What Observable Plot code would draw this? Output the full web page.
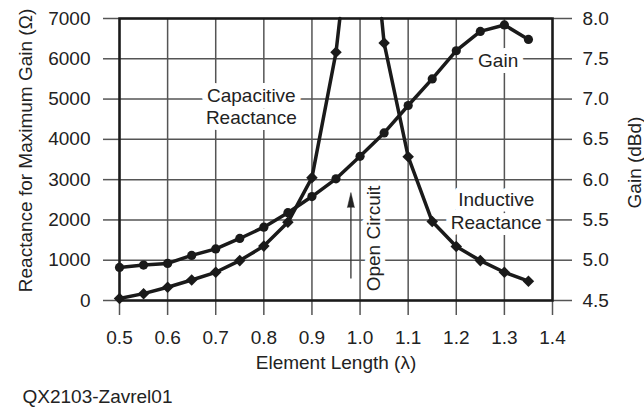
<!DOCTYPE html>
<html><head><meta charset="utf-8">
<script src="https://cdn.jsdelivr.net/npm/d3@7"></script>
<script src="https://cdn.jsdelivr.net/npm/@observablehq/plot@0.6"></script>
<style>body{margin:0;background:#fff} svg{display:block}</style>
</head><body><div id="chart"></div>
<script>
// Capacitive reactance (Ω) vs element length (λ)
const capLength = [0.5, 0.55, 0.6, 0.65, 0.7, 0.75, 0.8, 0.85, 0.9, 0.95];
const capReact  = [50, 170, 330, 510, 700, 990, 1350, 1940, 3050, 6160];
// where the capacitive curve leaves the top of the chart
const capExitLength = 0.958, capExitReact = 7000;

// Inductive reactance (Ω)
const indLength = [1.05, 1.1, 1.15, 1.2, 1.25, 1.3, 1.35];
const indReact  = [6390, 3570, 1960, 1340, 990, 700, 480];
const indEntryLength = 1.045, indEntryReact = 7000;

// Gain (dBd)
const gainLength = [0.5, 0.55, 0.6, 0.65, 0.7, 0.75, 0.8, 0.85, 0.9, 0.95, 1.0, 1.05, 1.1, 1.15, 1.2, 1.25, 1.3, 1.35];
const gainDbd    = [4.91, 4.94, 4.96, 5.06, 5.14, 5.27, 5.41, 5.59, 5.79, 6.01, 6.29, 6.58, 6.92, 7.25, 7.60, 7.84, 7.92, 7.74];

// Axis ticks
const xTicks = [0.5, 0.6, 0.7, 0.8, 0.9, 1.0, 1.1, 1.2, 1.3, 1.4];
const reactTicks = [0, 1000, 2000, 3000, 4000, 5000, 6000, 7000];
const gainMin = 4.5, gainMax = 8.0, reactMax = 7000;

// Open-circuit arrow
const openLength = 0.981, openFrom = 546, openTo = 2680;

const toR = g => (g - gainMin) / (gainMax - gainMin) * reactMax;
const toG = r => gainMin + r / reactMax * (gainMax - gainMin);

const cap = capLength.map((x, i) => ({x, y: capReact[i]}));
const capLine = [...cap, {x: capExitLength, y: capExitReact}];
const ind = indLength.map((x, i) => ({x, y: indReact[i]}));
const indLine = [{x: indEntryLength, y: indEntryReact}, ...ind];
const gain = gainLength.map((x, i) => ({x, g: gainDbd[i]}));

const ink = "#1a1a1a", grid = "#555", txt = "#222";
const halo = {fill: txt, stroke: "white", strokeWidth: 12, paintOrder: "stroke", fontSize: 19};

const chart = Plot.plot({
  width: 644, height: 411,
  marginLeft: 119, marginRight: 92, marginTop: 18, marginBottom: 111,
  style: {fontFamily: "Liberation Sans, Arial, sans-serif", fontSize: "19px", background: "white", color: txt},
  x: {domain: [0.5, 1.4]},
  y: {domain: [0, 7000]},
  marks: [
    Plot.gridX({ticks: xTicks, stroke: grid, strokeOpacity: 1, strokeWidth: 1.5}),
    Plot.gridY({ticks: reactTicks, stroke: grid, strokeOpacity: 1, strokeWidth: 1.5}),
    Plot.axisX({ticks: xTicks, tickFormat: d => d.toFixed(1), tickSize: 15, tickPadding: 15, stroke: grid, strokeWidth: 1.5, fill: txt, label: null}),
    Plot.axisY({anchor: "left", ticks: reactTicks, tickFormat: d => String(d), tickSize: 16, tickPadding: 13, stroke: grid, strokeWidth: 1.5, fill: txt, label: null}),
    Plot.axisY({anchor: "right", ticks: reactTicks, tickFormat: d => toG(d).toFixed(1), tickSize: 19, tickPadding: 11, stroke: grid, strokeWidth: 1.5, fill: txt, label: null}),
    // annotations with white backgrounds
    Plot.text(["Capacitive\nReactance"], {x: 0.774, y: 4826, lineHeight: 1.18, ...halo}),
    Plot.text(["Gain"], {x: 1.287, y: 5955, ...halo}),
    Plot.text(["Inductive\nReactance"], {x: 1.283, y: 2250, lineHeight: 1.22, ...halo}),
    Plot.text(["Open Circuit"], {x: 1.029, y: 1538, rotate: -90, ...halo, strokeWidth: 10}),
    // open circuit arrow
    Plot.link([0], {x1: openLength, x2: openLength, y1: openFrom, y2: openTo - 250, stroke: "#333", strokeWidth: 1.3}),
    Plot.vector([0], {x: openLength, y: openTo, length: 15, shape: "spike", r: 3.5, anchor: "end", fill: "#222", stroke: "#222", strokeWidth: 0.5}),
    // data
    Plot.line(capLine, {x: "x", y: "y", stroke: ink, strokeWidth: 3.5}),
    Plot.line(indLine, {x: "x", y: "y", stroke: ink, strokeWidth: 3.5}),
    Plot.line(gain, {x: "x", y: d => toR(d.g), stroke: ink, strokeWidth: 3.5}),
    Plot.dot(cap, {x: "x", y: "y", symbol: "square", rotate: 45, r: 4.6, fill: ink}),
    Plot.dot(ind, {x: "x", y: "y", symbol: "square", rotate: 45, r: 4.6, fill: ink}),
    Plot.dot(gain, {x: "x", y: d => toR(d.g), symbol: "circle", r: 4.6, fill: ink}),
    Plot.frame({stroke: ink, strokeWidth: 2.5}),
    // axis titles & caption
    Plot.text(["Reactance for Maximum Gain (Ω)"], {frameAnchor: "left", dx: -94, dy: -9, rotate: -90, textAnchor: "middle", lineAnchor: "middle", fill: txt, fontSize: 19}),
    Plot.text(["Gain (dBd)"], {frameAnchor: "right", dx: 82, dy: 3, rotate: -90, textAnchor: "middle", lineAnchor: "middle", fill: txt, fontSize: 19}),
    Plot.text(["Element Length (λ)"], {frameAnchor: "bottom", dy: 68, fill: txt, fontSize: 19}),
    Plot.text(["QX2103-Zavrel01"], {frameAnchor: "bottom-left", dx: -97, dy: 102, textAnchor: "start", fill: txt, fontSize: 19})
  ]
});
document.getElementById("chart").append(chart);
</script>
</body></html>
